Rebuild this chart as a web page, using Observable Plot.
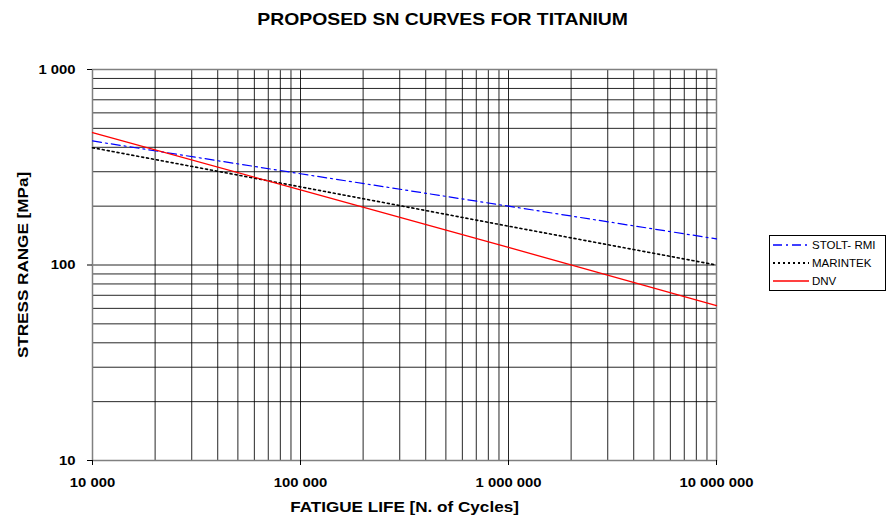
<!DOCTYPE html>
<html>
<head>
<meta charset="utf-8">
<script src="https://cdn.jsdelivr.net/npm/d3@7"></script>
<script src="https://cdn.jsdelivr.net/npm/@observablehq/plot@0.6"></script>
<style>
  body { margin: 0; background: #fff; font-family: "Liberation Sans", Arial, sans-serif; }
  #wrap { position: relative; width: 888px; height: 517px; }
  #title { height: 48px; width: 888px; text-align: center; font-weight: bold; font-size: 17px; line-height: 40px; }
  #title span { display: inline-block; transform: scaleX(1.14); margin-left: -2px; }
  #legend { position: absolute; left: 769px; top: 235px; width: 115px; height: 54px; border: 1px solid #000; background: #fff; font-size: 11.5px; }
  .row { display: flex; align-items: center; height: 18px; }
  .row svg { margin-left: 3px; margin-right: 3px; }
</style>
</head>
<body>
<div id="wrap">
  <div id="title"><span></span></div>
  <div id="chart"></div>
  <div id="legend"></div>
</div>
<script>
const titleText = "PROPOSED SN CURVES FOR TITANIUM";
const xLabel = "FATIGUE LIFE [N. of Cycles]";
const yLabel = "STRESS RANGE [MPa]";

const cycles = [1e4, 1e5, 1e6, 1e7];
const stoltRmi = [431, 293, 200, 136];
const marintek = [398, 251, 158, 100];
const dnv = [476, 242, 123, 62];

const seriesNames = ["STOLT- RMI", "MARINTEK", "DNV"];
const seriesColors = ["#0000ff", "#000000", "#ff0000"];
const seriesDash = ["9,4,2,4", "2,3", null];
const seriesWidth = [1.2, 1.6, 1.3];

const xTicks = [1e4, 1e5, 1e6, 1e7];
const yTicks = [10, 100, 1000];

const xGrid = [];
for (const d of [1e4, 1e5, 1e6]) for (let k = 1; k < 10; k++) xGrid.push(d * k);
xGrid.push(1e7);
const yGrid = [];
for (const d of [10, 100]) for (let k = 1; k < 10; k++) yGrid.push(d * k);
yGrid.push(1000);

const fmt = d => d3.format(",")(d).replace(/,/g, " ");

const seriesValues = [stoltRmi, marintek, dnv];
const data = seriesValues.map((vals, i) => cycles.map((c, j) => ({series: seriesNames[i], x: c, y: vals[j]})));

document.querySelector("#title span").textContent = titleText;

const chart = Plot.plot({
  width: 888,
  height: 469,
  marginTop: 21,
  marginBottom: 57,
  marginLeft: 92,
  marginRight: 172,
  style: {fontFamily: "'Liberation Sans', Arial, sans-serif", fontSize: "13px", fontWeight: "bold", color: "#000", background: "#fff", overflow: "visible"},
  x: {type: "log", domain: [1e4, 1e7]},
  y: {type: "log", domain: [10, 1000]},
  marks: [
    Plot.ruleX(xGrid, {stroke: "#000", strokeWidth: 1, strokeOpacity: 0.85}),
    Plot.ruleY(yGrid, {stroke: "#000", strokeWidth: 1, strokeOpacity: 0.85}),
    Plot.frame({stroke: "#808080", strokeWidth: 1.5}),
    Plot.axisX({ticks: xTicks, tickFormat: fmt, tickSize: 5, tickPadding: 12, label: xLabel, labelAnchor: "center", labelArrow: "none", labelOffset: 51, fontSize: 13}),
    Plot.axisY({ticks: yTicks, tickFormat: fmt, tickSize: 5, tickPadding: 12, label: yLabel, labelAnchor: "center", labelArrow: "none", labelOffset: 75, fontSize: 13}),
    ...data.map((d, i) => Plot.line(d, {x: "x", y: "y", stroke: seriesColors[i], strokeWidth: seriesWidth[i], strokeDasharray: seriesDash[i]}))
  ]
});
document.getElementById("chart").appendChild(chart);

// axis titles slightly larger, and widen glyphs to match the reference's wide font
chart.querySelectorAll("g[aria-label='x-axis label'] text, g[aria-label='y-axis label'] text").forEach(t => t.setAttribute("font-size", "15"));
chart.querySelectorAll("g[aria-label$='axis tick label'] text, g[aria-label$='axis label'] text").forEach(t => {
  const len = t.getComputedTextLength();
  if (len > 0) {
    t.setAttribute("textLength", (len * 1.14).toFixed(1));
    t.setAttribute("lengthAdjust", "spacingAndGlyphs");
  }
});

const legend = document.getElementById("legend");
seriesNames.forEach((name, i) => {
  const row = document.createElement("div");
  row.className = "row";
  const svg = d3.create("svg").attr("width", 36).attr("height", 10);
  svg.append("line").attr("x1", 0).attr("x2", 36).attr("y1", 5).attr("y2", 5)
    .attr("stroke", seriesColors[i]).attr("stroke-width", seriesWidth[i] + 0.3)
    .attr("stroke-dasharray", seriesDash[i]);
  row.appendChild(svg.node());
  const span = document.createElement("span");
  span.textContent = name;
  row.appendChild(span);
  legend.appendChild(row);
});
</script>
</body>
</html>
